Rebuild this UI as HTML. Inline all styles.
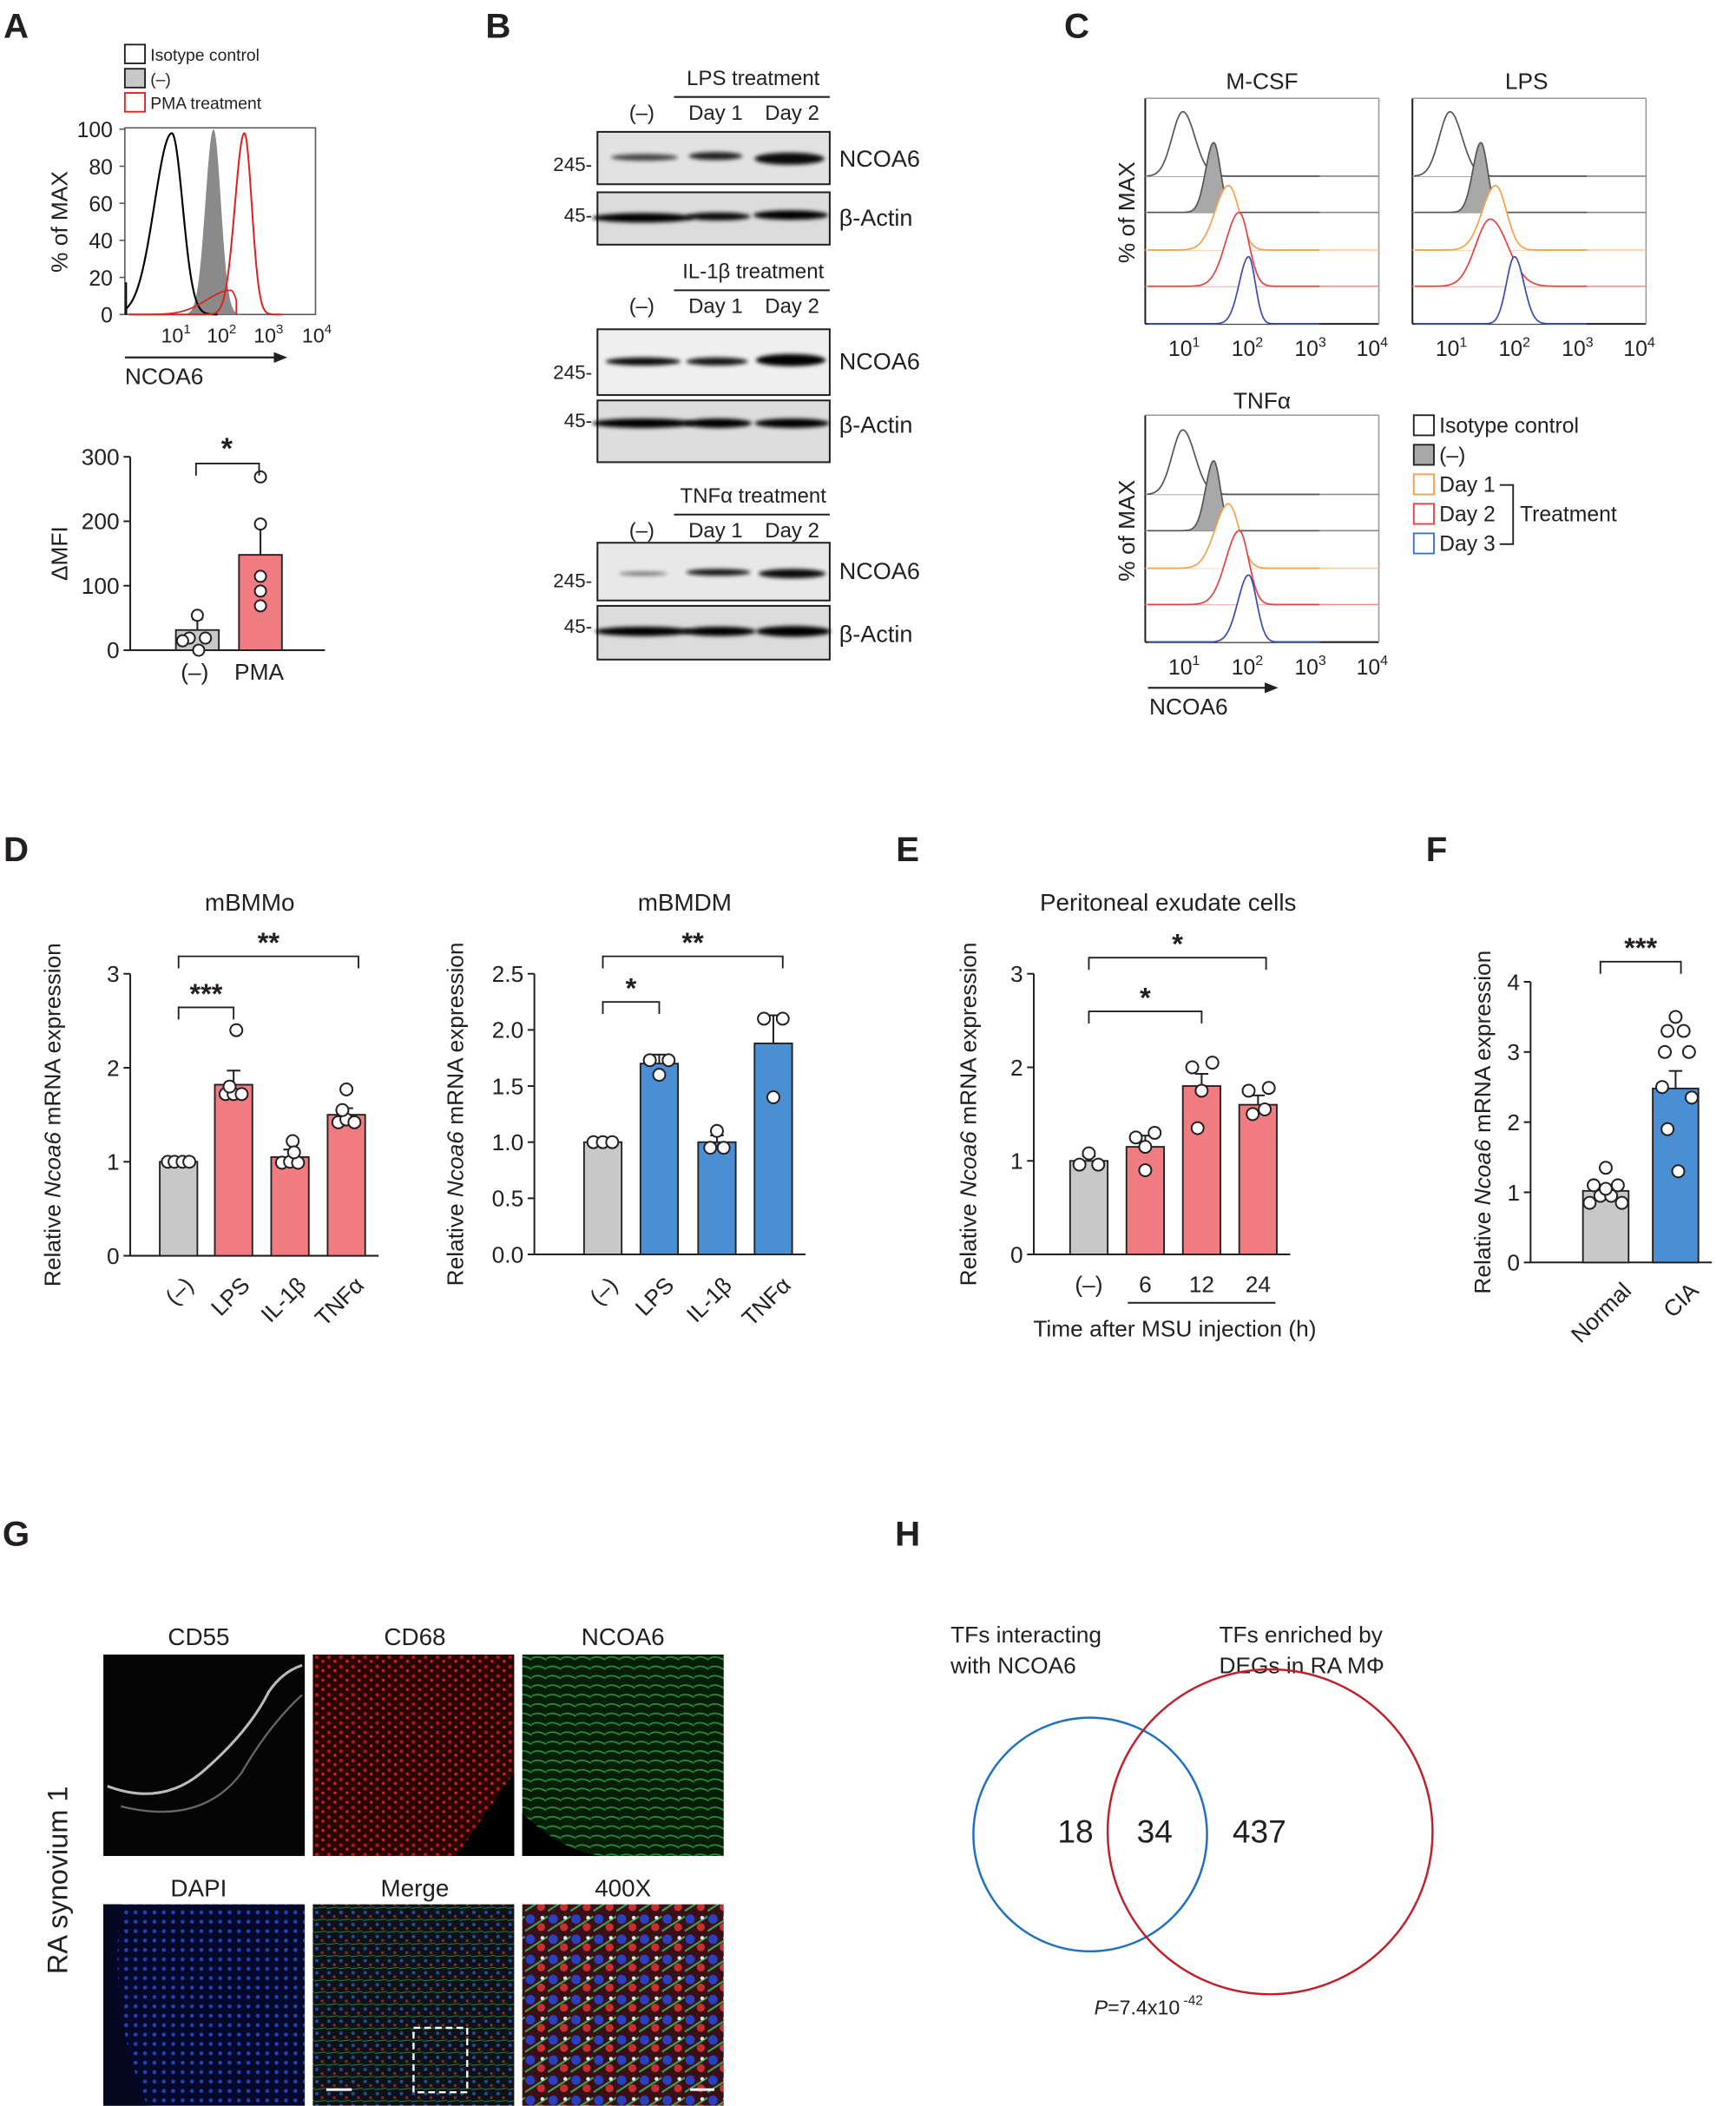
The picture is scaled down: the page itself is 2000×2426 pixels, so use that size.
<!DOCTYPE html>
<html><head><meta charset="utf-8"><style>
html,body{margin:0;padding:0;background:#fff}
svg{display:block}
text{font-family:"Liberation Sans",Arial,sans-serif;fill:#231f20}
</style></head><body>
<svg id="s" width="2000" height="2426" viewBox="0 0 1293 1568" xmlns="http://www.w3.org/2000/svg">
<defs>
<filter id="bl" x="-20%" y="-200%" width="140%" height="500%"><feGaussianBlur stdDeviation="1.6"/></filter>
<filter id="sm"><feGaussianBlur stdDeviation="0.8"/></filter>
<pattern id="pr" width="9" height="7" patternUnits="userSpaceOnUse"><rect width="9" height="7" fill="#2a0404"/><circle cx="2" cy="2" r="1.4" fill="#b01818"/><circle cx="6.5" cy="5" r="1.1" fill="#d02626"/></pattern>
<pattern id="pg" width="11" height="7" patternUnits="userSpaceOnUse"><rect width="11" height="7" fill="#041e08"/><path d="M0 3 Q5 0 11 4" stroke="#2a9038" stroke-width="1.1" fill="none"/></pattern>
<pattern id="pb" width="7" height="7" patternUnits="userSpaceOnUse"><rect width="7" height="7" fill="#04082a"/><circle cx="3" cy="3" r="1.5" fill="#2440b0"/></pattern>
<pattern id="pm" width="9" height="9" patternUnits="userSpaceOnUse"><rect width="9" height="9" fill="#0c1218"/><circle cx="2" cy="2" r="1.3" fill="#2a4aa0"/><circle cx="6" cy="5" r="1.1" fill="#902828"/><path d="M0 8 L9 7" stroke="#2e7a3c" stroke-width="0.7"/></pattern>
<pattern id="p4" width="17" height="15" patternUnits="userSpaceOnUse"><rect width="17" height="15" fill="#381018"/><circle cx="4" cy="4" r="3.5" fill="#2a40c0"/><circle cx="12" cy="10" r="3" fill="#c83030"/><path d="M0 13 L17 2" stroke="#40a050" stroke-width="1.4"/><circle cx="13" cy="3" r="1.4" fill="#e8e8e8"/></pattern>
</defs>
<g id="g"></g>
</svg>
<script>
var o=[];
function T(x,y,t,sz,a,extra){o.push('<text x="'+x+'" y="'+y+'" font-size="'+(sz||17)+'" text-anchor="'+(a||'middle')+'" '+(extra||'')+'>'+t+'</text>');}
function L(x1,y1,x2,y2,c,w){o.push('<line x1="'+x1+'" y1="'+y1+'" x2="'+x2+'" y2="'+y2+'" stroke="'+(c||'#231f20')+'" stroke-width="'+(w||1.3)+'"/>');}
function R(x,y,w,h,f,s,sw,ex){o.push('<rect x="'+x+'" y="'+y+'" width="'+w+'" height="'+h+'" fill="'+(f||'none')+'" stroke="'+(s||'none')+'" stroke-width="'+(sw||1.2)+'" '+(ex||'')+'/>');}
function C(x,y,r,f,s,sw){o.push('<circle cx="'+x+'" cy="'+y+'" r="'+r+'" fill="'+(f||'#fff')+'" stroke="'+(s||'#231f20')+'" stroke-width="'+(sw||1.3)+'"/>');}
function P(d,f,s,sw){o.push('<path d="'+d+'" fill="'+(f||'none')+'" stroke="'+(s||'none')+'" stroke-width="'+(sw||1.2)+'"/>');}
function sup(x,y,b,e,sz){o.push('<text x="'+x+'" y="'+y+'" font-size="'+sz+'" text-anchor="middle">'+b+'<tspan font-size="'+(sz*0.65)+'" dy="-7">'+e+'</tspan></text>');}
function H(x0,x1,base,px,h,sl,sr){var d='M'+x0+' '+base;for(var x=x0;x<=x1;x+=0.5){var s=x<px?sl:sr;var y=base-h*Math.exp(-Math.pow((x-px)/s,2)/2);d+=' L'+x.toFixed(1)+' '+y.toFixed(1);}d+=' L'+x1+' '+base;return d;}
function lab(x,y,t){T(x,y,t,26,'middle','font-weight="bold"');}
lab(12,28,'A');lab(371,28,'B');lab(802,28,'C');lab(12,641,'D');lab(676,641,'E');lab(1070,641,'F');lab(12,1151,'G');lab(676,1151,'H');
// ===== A
R(93,33,15,14,'#fff','#231f20');R(93,51,15,14,'#c8c8c8','#231f20');R(93,69,15,14,'#fff','#e02020');
T(112,45,'Isotype control',12.5,'start');T(112,63,'(–)',12.5,'start');T(112,81,'PMA treatment',12.5,'start');
R(93,95,142,139,'none','#555',1);
[0,20,40,60,80,100].forEach(function(v){var y=234-v*1.38;T(84,y+6,v,16,'end');L(89,y,93,y,'#555',1);});
T(50,165,'% of MAX',17,'middle','transform="rotate(-90 50 165)"');
P(H(135,182,234,159,138,6,5.5),'#8a8a8a','none');
P(H(94,162,234,128,135,13,8),'none','#000',1.4);
P('M94 234 L94 210','none','#000',1.2);
P(H(96,210,234,182,135,7,5.5),'none','#e02020',1.3);
P(H(96,176,234,172,18,18,4),'none','#e02020',1.1);
sup(131,255,'10','1',15);sup(165,255,'10','2',15);sup(200,255,'10','3',15);sup(236,255,'10','4',15);
L(93,266,207,266,'#231f20',1.4);P('M214 266 L204 262 L204 270 Z','#231f20');T(93,286,'NCOA6',17,'start');
L(97,340,97,484);L(97,484,242,484);
[[0,484],[100,436],[200,388],[300,340]].forEach(function(a){L(92,a[1],97,a[1]);T(89,a[1]+6,a[0],17,'end');});
T(50,412,'ΔMFI',17,'middle','transform="rotate(-90 50 412)"');
R(131,469,32,15,'#c8c8c8','#231f20');R(178,413,32,71,'#f07b80','#231f20');
L(147,469,147,461);L(143,461,151,461);L(194,413,194,391);L(190,391,198,391);
[[147,458],[141,475],[153,475],[148,484],[136,477]].forEach(function(a){C(a[0],a[1],4.2);});
[[194,355],[194,390],[194,429],[194,440],[194,451]].forEach(function(a){C(a[0],a[1],4.2);});
P('M146 354 L146 345 L193 345 L193 354','none','#231f20');T(169,341,'*',22,'middle','font-weight="bold"');
T(145,506,'(–)',17);T(193,506,'PMA',17);
// ===== B
function band(cx,cy,w,h,op){o.push('<ellipse cx="'+cx+'" cy="'+cy+'" rx="'+w/2+'" ry="'+h/2+'" fill="#000" opacity="'+op+'" filter="url(#bl)"/>');}
function hdr(y,t){T(561,y,t,15.5);L(502,y+9,618,y+9);T(478,y+26,'(–)',15.5);T(533,y+26,'Day 1',15.5);T(590,y+26,'Day 2',15.5);}
hdr(63,'LPS treatment');
R(445,98,173,39,'#e2e2e2','#231f20',1.3);band(480,117,50,5,0.7);band(533,116,40,6,0.85);band(588,118,52,9,0.95);
R(445,143,173,39,'#dcdcdc','#231f20',1.3);band(479,162,76,7,1);band(535,161,48,6,0.95);band(589,160,56,7,1);
T(441,127,'245-',14.5,'end');T(441,165,'45-',14.5,'end');T(625,124,'NCOA6',17.5,'start');T(625,168,'β-Actin',17.5,'start');
hdr(207,'IL-1β treatment');
R(445,245,173,49,'#efefef','#231f20',1.3);band(479,269,56,6,0.95);band(534,269,46,6,0.9);band(589,268,52,9,1);
R(445,298,173,46,'#dddddd','#231f20',1.3);band(479,315,76,7,1);band(535,315,50,7,1);band(590,315,56,7,1);
T(441,282,'245-',14.5,'end');T(441,318,'45-',14.5,'end');T(625,275,'NCOA6',17.5,'start');T(625,322,'β-Actin',17.5,'start');
hdr(374,'TNFα treatment');
R(445,404,173,43,'#e8e8e8','#231f20',1.3);band(479,427,36,3,0.5);band(535,426,48,5,0.9);band(590,427,50,7,0.95);
R(445,451,173,40,'#dcdcdc','#231f20',1.3);band(479,470,72,7,1);band(536,470,54,7,1);band(591,470,56,8,1);
T(441,437,'245-',14.5,'end');T(441,471,'45-',14.5,'end');T(625,431,'NCOA6',17.5,'start');T(625,478,'β-Actin',17.5,'start');
// ===== C
function stack(x0,y0,ytop,pks,xl){var w=174;L(x0,ytop,x0,y0+110);L(x0,y0+110,x0+w,y0+110);L(x0,ytop,x0+w,ytop,'#999',1);L(x0+w,ytop,x0+w,y0+110,'#999',1);
var bases=[y0,y0+27,y0+55,y0+82,y0+110],cols=['#555','#555','#f5a04a','#e84040','#3a4ab0'],lc=['#888','#888','#fbc890','#f08a8a','#3a4ab0'];
for(var i=0;i<5;i++){if(i<4)L(x0,bases[i],x0+w,bases[i],lc[i],1);var p=pks[i];P(H(x0+2,x0+130,bases[i],x0+p[0],p[1],p[2],p[3]),i==1?'#a8a8a8':'#fff',cols[i],1.1);}
var xs=[29,76,123,169];for(var k=0;k<4;k++)sup(x0+xs[k],xl,'10',k+1,16);}
T(940,66,'M-CSF',17);stack(853,131,73,[[28,48,8,9],[51,52,6,5],[62,48,10,8],[70,55,10,7],[77,50,7,5]],265);
T(1137,66,'LPS',17);stack(1052,131,73,[[28,48,8,9],[51,52,6,5],[62,48,10,8],[58,50,11,13],[76,50,6,7]],265);
T(940,304,'TNFα',17);stack(853,368,309,[[28,48,8,9],[51,52,6,5],[62,48,10,8],[70,55,10,7],[77,50,8,6]],502);
T(845,158,'% of MAX',17,'middle','transform="rotate(-90 845 158)"');T(845,395,'% of MAX',17,'middle','transform="rotate(-90 845 395)"');
L(855,512,944,512,'#231f20',1.4);P('M952 512 L942 508 L942 516 Z','#231f20');T(856,532,'NCOA6',17,'start');
var lc2=[['#fff','#231f20'],['#a8a8a8','#231f20'],['#fff','#f5a04a'],['#fff','#e84040'],['#fff','#3a70c8']],lt=['Isotype control','(–)','Day 1','Day 2','Day 3'];
for(var i=0;i<5;i++){R(1053,309+i*22,15,15,lc2[i][0],lc2[i][1]);T(1072,322+i*22,lt[i],16,'start');}
P('M1117 361 L1127 361 L1127 405 L1117 405','none','#231f20');T(1132,388,'Treatment',16,'start');
// ===== bar charts
function chart(ax,y0,ytop,max,step,fmt,bars,ylx){var sc=(y0-ytop)/max;L(ax,ytop,ax,y0);
for(var v=0;v<=max+1e-9;v+=step){var y=y0-v*sc;L(ax-5,y,ax,y);T(ax-8,y+6,fmt(v),17,'end');}
var xr=bars[bars.length-1].c+bars[0].w/2+10;L(ax,y0,xr,y0);
bars.forEach(function(b){var yt=y0-b.v*sc;R(b.c-b.w/2,yt,b.w,b.v*sc,b.f,'#231f20');if(b.e){L(b.c,yt,b.c,yt-b.e*sc);L(b.c-5,yt-b.e*sc,b.c+5,yt-b.e*sc);}
b.d.forEach(function(d){C(b.c+d[0],y0-d[1]*sc,4.5);});});
o.push('<text x="'+ylx+'" y="'+((y0+ytop)/2)+'" font-size="17" text-anchor="middle" transform="rotate(-90 '+ylx+' '+((y0+ytop)/2)+')">Relative <tspan font-style="italic">Ncoa6</tspan> mRNA expression</text>');return sc;}
function br(x1,x2,y,t){P('M'+x1+' '+(y+9)+' L'+x1+' '+y+' L'+x2+' '+y+' L'+x2+' '+(y+9),'none','#231f20');T((x1+x2)/2,y-3,t,21,'middle','font-weight="bold"');}
function rot(x,y,t){T(x,y,t,17,'end','transform="rotate(-45 '+x+' '+y+')"');}
var pinkc='#f07b80',blue='#4a8fd4',grey='#c8c8c8';
T(186,678,'mBMMo',18);
chart(97,935,725,3,1,function(v){return v;},[
{c:133,w:28,v:1,f:grey,e:0,d:[[-8,1],[-3,1],[3,1],[8,1]]},
{c:174,w:28,v:1.82,f:pinkc,e:0.15,d:[[2,2.4],[-6,1.72],[0,1.72],[6,1.72],[-3,1.8]]},
{c:216,w:28,v:1.05,f:pinkc,e:0.08,d:[[2,1.22],[-6,0.99],[0,1.0],[6,0.99],[3,1.1]]},
{c:258,w:28,v:1.5,f:pinkc,e:0.07,d:[[0,1.77],[-6,1.42],[0,1.45],[6,1.42],[-3,1.55]]}],45);
br(133,174,750,'***');br(133,267,712,'**');
rot(145,958,'(–)');rot(187,958,'LPS');rot(229,958,'IL-1β');rot(272,958,'TNFα');
T(510,678,'mBMDM',18);
chart(398,934,725,2.5,0.5,function(v){return v.toFixed(1);},[
{c:449,w:28,v:1,f:grey,e:0,d:[[-7,1],[0,1],[7,1]]},
{c:491,w:28,v:1.7,f:blue,e:0.08,d:[[-7,1.73],[0,1.6],[7,1.73]]},
{c:534,w:28,v:1,f:blue,e:0.06,d:[[0,1.1],[-5,0.95],[5,0.95]]},
{c:576,w:28,v:1.88,f:blue,e:0.25,d:[[-7,2.1],[7,2.1],[0,1.4]]}],345);
br(449,491,746,'*');br(449,583,712,'**');
rot(461,958,'(–)');rot(503,958,'LPS');rot(546,958,'IL-1β');rot(590,958,'TNFα');
T(870,678,'Peritoneal exudate cells',18);
chart(770,934,725,3,1,function(v){return v;},[
{c:811,w:28,v:1,f:grey,e:0.05,d:[[0,1.08],[-7,0.96],[7,0.96]]},
{c:853,w:28,v:1.15,f:pinkc,e:0.12,d:[[-7,1.25],[7,1.3],[0,0.9],[0,1.15]]},
{c:895,w:28,v:1.8,f:pinkc,e:0.13,d:[[-7,2.0],[8,2.05],[-3,1.35],[0,1.75]]},
{c:937,w:28,v:1.6,f:pinkc,e:0.1,d:[[-7,1.75],[8,1.78],[-4,1.5],[5,1.55]]}],727);
br(811,895,753,'*');br(811,943,713,'*');
T(811,962,'(–)',17);T(853,962,'6',17);T(895,962,'12',17);T(937,962,'24',17);L(840,970,950,970);T(875,995,'Time after MSU injection (h)',17);
chart(1140,940,731,4,1,function(v){return v;},[
{c:1196,w:34,v:1.02,f:grey,e:0.08,d:[[0,1.35],[-9,1.1],[9,1.1],[-12,0.85],[12,0.85],[-4,0.95],[4,0.95],[0,1.05]]},
{c:1248,w:34,v:2.48,f:blue,e:0.25,d:[[0,3.5],[-6,3.3],[6,3.3],[-8,3.0],[10,3.0],[-10,2.5],[12,2.35],[-6,1.9],[2,1.3]]}],1110);
br(1192,1252,716,'***');
rot(1216,962,'Normal');rot(1266,962,'CIA');
// ===== G
T(148,1225,'CD55',18);T(309,1225,'CD68',18);T(464,1225,'NCOA6',18);
T(148,1412,'DAPI',18);T(309,1412,'Merge',18);T(464,1412,'400X',18);
R(77,1232,150,150,'#050505');P('M80 1330 Q120 1345 150 1320 Q185 1290 200 1260 Q210 1245 225 1240','none','#bbb',2);P('M90 1345 Q150 1360 180 1320 Q200 1285 225 1262','none','#666',1.5);
R(233,1232,150,150,'url(#pr)');P('M340 1382 Q365 1345 383 1320 L383 1382 Z','#000');
R(389,1232,150,150,'url(#pg)');P('M389 1350 Q420 1380 450 1382 L389 1382 Z','#000');
R(77,1418,150,150,'url(#pb)');P('M77 1418 L90 1418 Q80 1500 110 1568 L77 1568 Z','#040820');
R(233,1418,150,150,'url(#pm)');R(308,1510,40,48,'none','#fff',1.5,'stroke-dasharray="5 3"');L(243,1556,262,1556,'#fff',2);
R(389,1418,150,150,'url(#p4)');L(514,1556,532,1556,'#fff',2);
T(50,1400,'RA synovium 1',21,'middle','transform="rotate(-90 50 1400)"');
// ===== H
T(708,1223,'TFs interacting',17,'start');T(708,1246,'with NCOA6',17,'start');
T(908,1223,'TFs enriched by',17,'start');T(908,1246,'DEGs in RA MΦ',17,'start');
o.push('<circle cx="812" cy="1366" r="87" fill="none" stroke="#2070c0" stroke-width="1.6"/>');
o.push('<circle cx="946" cy="1364" r="121" fill="none" stroke="#c0202a" stroke-width="1.6"/>');
T(801,1372,'18',24);T(860,1372,'34',24);T(938,1372,'437',24);
o.push('<text x="815" y="1500" font-size="15"><tspan font-style="italic">P</tspan>=7.4x10<tspan font-size="10" dy="-7"> -42</tspan></text>');
document.getElementById('g').innerHTML=o.join('');
</script>
</body></html>
